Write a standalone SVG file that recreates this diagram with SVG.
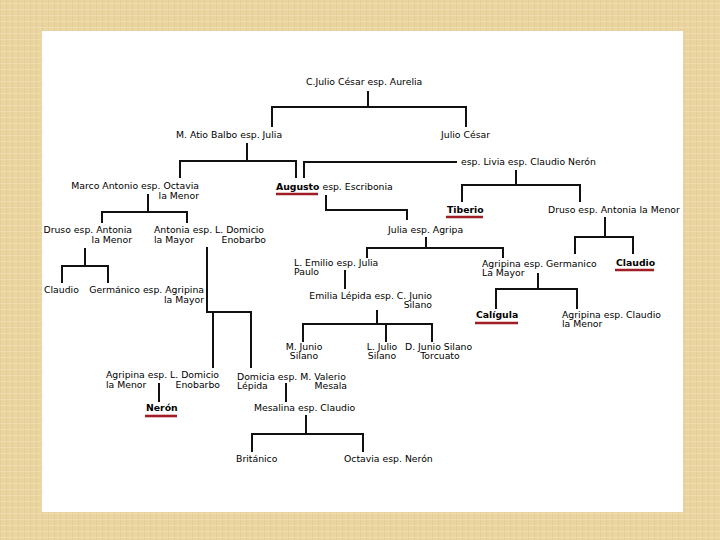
<svg xmlns="http://www.w3.org/2000/svg" width="720" height="540" viewBox="0 0 720 540">
<defs>
<pattern id="linen" width="6" height="6" patternUnits="userSpaceOnUse">
<rect width="6" height="6" fill="#EAD49F"/>
<rect x="0" y="0" width="1" height="6" fill="#DEC68E" opacity="0.6"/>
<rect x="0" y="3" width="6" height="1" fill="#F2E2B8" opacity="0.6"/>
</pattern>
<style>
text{font-family:"DejaVu Sans",Verdana,sans-serif;font-size:9.3px;fill:#000}
.b{font-weight:bold}
.e{text-anchor:end}
.m{text-anchor:middle}
.c{fill:none;stroke:#111;stroke-width:2}
.u{stroke:#A11D25;stroke-width:2.6}
</style>
</defs>
<rect width="720" height="540" fill="url(#linen)"/>
<rect x="42" y="31" width="641" height="481" fill="#fff"/>
<g id="connectors" class="c">
<path d="M368 91V107M272 127V107H466V127"/>
<path d="M247 143V161M180 178V161H296V178"/>
<path d="M304 178V162H457"/>
<path d="M148 194V212M102 223V212H187V223"/>
<path d="M85 248V266M62 283V266H108V283"/>
<path d="M207 247V312H251V368M213 312V368"/>
<path d="M159 383V402"/>
<path d="M286 383V402"/>
<path d="M306 415V434M252 452V434H363V452"/>
<path d="M326 195V210H407V220"/>
<path d="M426 237V248M367 258V248H503V258"/>
<path d="M345 270V289"/>
<path d="M377 310V324M303 342V324H432V342M386 324V342"/>
<path d="M516 170V185M462 202V185H580V202"/>
<path d="M605 217V237M575 254V237H633V254"/>
<path d="M538 273V289M496 309V289H577V309"/>
</g>
<g id="n-cesar"><text x="306" y="85">C.Julio César esp. Aurelia</text></g>
<g id="n-atio"><text x="176" y="138">M. Atio Balbo esp. Julia</text></g>
<g id="n-juliocesar"><text x="441" y="138">Julio César</text></g>
<g id="n-livia"><text x="461" y="165">esp. Livia esp. Claudio Nerón</text></g>
<g id="n-augusto"><text x="276" y="190"><tspan class="b">Augusto</tspan> esp. Escribonia</text><line class="u" x1="276" y1="194" x2="318" y2="194"/></g>
<g id="n-marco"><text x="199" y="189" class="e">Marco Antonio esp. Octavia</text><text x="199" y="199" class="e">la Menor</text></g>
<g id="n-druso1"><text x="132" y="233" class="e">Druso esp. Antonia</text><text x="132" y="243" class="e">la Menor</text></g>
<g id="n-antonia"><text x="154" y="233">Antonia esp. L. Domicio</text><text x="154" y="243">la Mayor</text><text x="266" y="243" class="e">Enobarbo</text></g>
<g id="n-claudio1"><text x="44" y="293">Claudio</text></g>
<g id="n-germanico"><text x="204" y="293" class="e">Germánico esp. Agripina</text><text x="204" y="303" class="e">la Mayor</text></g>
<g id="n-agripina-menor1"><text x="106" y="378">Agripina esp. L. Domicio</text><text x="106" y="388">la Menor</text><text x="220" y="388" class="e">Enobarbo</text></g>
<g id="n-neron"><text x="146" y="411" class="b">Nerón</text><line class="u" x1="145" y1="416" x2="177" y2="416"/></g>
<g id="n-domicia"><text x="237" y="380">Domicia esp. M. Valerio</text><text x="237" y="389">Lépida</text><text x="347" y="389" class="e">Mesala</text></g>
<g id="n-mesalina"><text x="254" y="411">Mesalina esp. Claudio</text></g>
<g id="n-britanico"><text x="236" y="462">Británico</text></g>
<g id="n-octavia"><text x="344" y="462">Octavia esp. Nerón</text></g>
<g id="n-julia"><text x="388" y="233">Julia esp. Agripa</text></g>
<g id="n-emilio"><text x="294" y="266">L. Emilio esp. Julia</text><text x="294" y="275">Paulo</text></g>
<g id="n-emilia"><text x="432" y="299" class="e">Emilia Lépida esp. C. Junio</text><text x="432" y="308" class="e">Silano</text></g>
<g id="n-mjunio"><text x="304" y="350" class="m">M. Junio</text><text x="304" y="359" class="m">Silano</text></g>
<g id="n-ljulio"><text x="382" y="350" class="m">L. Julio</text><text x="382" y="359" class="m">Silano</text></g>
<g id="n-djunio"><text x="405" y="350">D. Junio Silano</text><text x="440" y="359" class="m">Torcuato</text></g>
<g id="n-agripina-mayor"><text x="482" y="267">Agripina esp. Germanico</text><text x="482" y="276">La Mayor</text></g>
<g id="n-tiberio"><text x="447" y="213" class="b">Tiberio</text><line class="u" x1="446" y1="217" x2="483" y2="217"/></g>
<g id="n-druso2"><text x="548" y="213">Druso esp. Antonia la Menor</text></g>
<g id="n-claudio2"><text x="616" y="266" class="b">Claudio</text><line class="u" x1="615" y1="270" x2="654" y2="270"/></g>
<g id="n-caligula"><text x="476" y="318" class="b">Calígula</text><line class="u" x1="475" y1="323" x2="518" y2="323"/></g>
<g id="n-agripina-menor2"><text x="562" y="318">Agripina esp. Claudio</text><text x="562" y="327">la Menor</text></g>
</svg>
